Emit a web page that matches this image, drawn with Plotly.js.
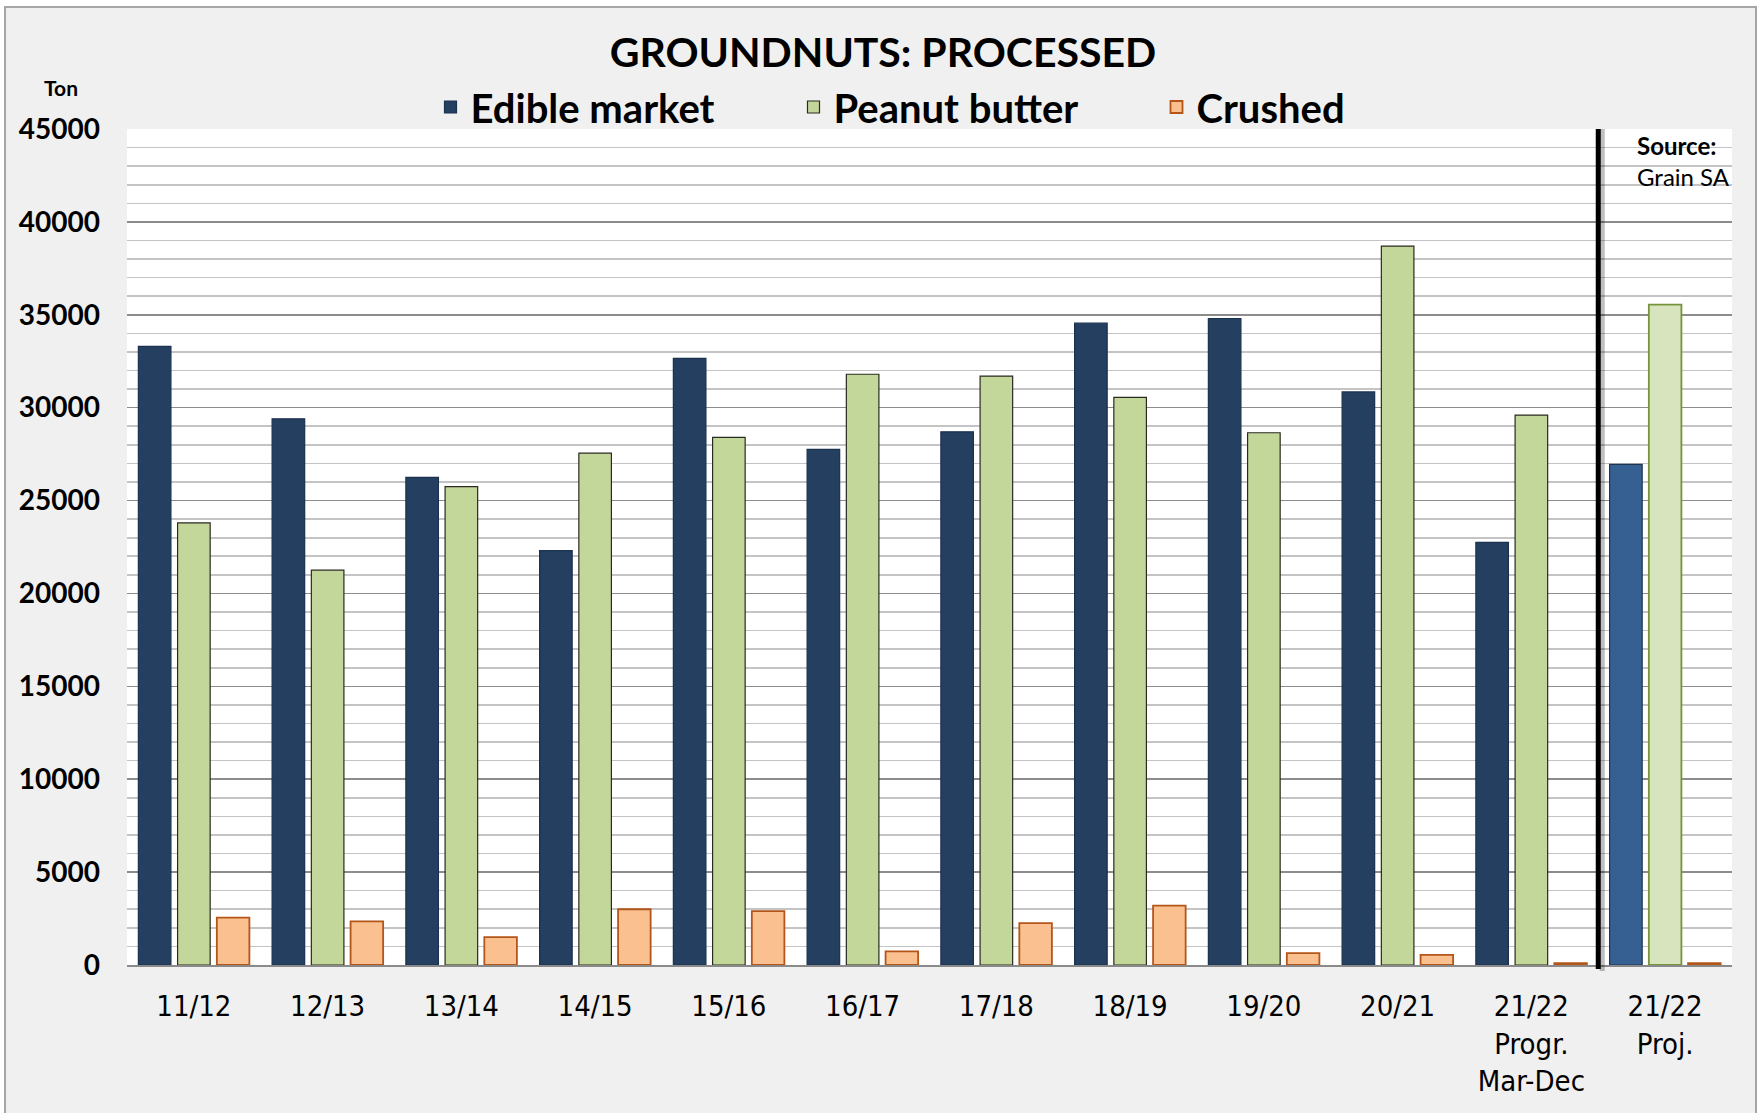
<!DOCTYPE html>
<html>
<head>
<meta charset="utf-8">
<script src="https://cdn.plot.ly/plotly-3.0.1.min.js"></script>
<style>
html,body{margin:0;padding:0;background:#ffffff;}
#chart{width:1763px;height:1113px;}
</style>
</head>
<body>
<div id="chart"></div>
<script>
// ---- data ----
const seasons = ["11/12","12/13","13/14","14/15","15/16","16/17","17/18","18/19","19/20","20/21","21/22<br>Progr.<br>Mar-Dec","21/22<br>Proj."];
const edibleMarket = [33300,29400,26250,22300,32650,27750,28700,34550,34800,30850,22750,26950];
const peanutButter = [23800,21250,25750,27550,28400,31800,31700,30550,28650,38700,29600,35550];
const crushed = [2550,2350,1500,3000,2900,730,2250,3200,640,550,100,100];
const seriesNames = ["Edible market","Peanut butter","Crushed"];
const yTicks = [0,5000,10000,15000,20000,25000,30000,35000,40000,45000];

// ---- styling ----
const n = seasons.length;
const last = n - 1;
function perBar(normal, special){ return seasons.map((_, i) => i === last ? special : normal); }

const L = 127, R = 1732, T = 129, B = 965, W = 1763, H = 1113;
const pw = R - L, ph = B - T;
const px = x => (x - L) / pw;
const py = y => (B - y) / ph;

const traces = [
  {type:'bar', name:seriesNames[0], x:seasons, y:edibleMarket,
   marker:{color:perBar('#243F60','#376092'), line:{color:perBar('#1b3150','#1f3552'), width:1.2}}},
  {type:'bar', name:seriesNames[1], x:seasons, y:peanutButter,
   marker:{color:perBar('#C4D79B','#D7E4BD'), line:{color:perBar('#2a2a20','#77933C'), width:perBar(1.2,1.8)}}},
  {type:'bar', name:seriesNames[2], x:seasons, y:crushed,
   marker:{color:'#FAC090', line:{color:'#B4561A', width:1.8}}}
];

const layout = {
  width: W, height: H,
  paper_bgcolor:'#F0F0F0', plot_bgcolor:'#FFFFFF',
  margin:{l:L, r:W-R, t:T, b:H-B, pad:0, autoexpand:false},
  barmode:'group', bargap:0.12, bargroupgap:0.17,
  showlegend:true,
  title:{text:'GROUNDNUTS: PROCESSED', x:883/W, xanchor:'center', xref:'container',
         y:1-53/H, yanchor:'middle', yref:'container',
         font:{family:'Lato, sans-serif', size:41, color:'#000000', weight:700}},
  legend:{orientation:'h', x:975/W, xanchor:'center', xref:'container',
          y:1-107/H, yanchor:'middle', yref:'container',
          font:{family:'Lato, sans-serif', size:40, color:'#000000', weight:700},
          bgcolor:'rgba(0,0,0,0)', entrywidth:318, entrywidthmode:'pixels', itemwidth:30},
  xaxis:{type:'category', showgrid:false, showline:true, linecolor:'#8a8a8a', linewidth:2,
         ticks:'', ticklabelstandoff:14,
         tickfont:{family:'"DejaVu Sans Condensed", Lato, sans-serif', size:29, color:'#000000'},
         fixedrange:true},
  yaxis:{range:[0,45000], tickmode:'array', tickvals:yTicks, ticktext:yTicks.map(String),
         showgrid:true, gridcolor:'#8c8c8c', gridwidth:1.6, zeroline:false,
         minor:{dtick:1000, tick0:0, showgrid:true, gridcolor:'#c4c4c4', gridwidth:1.6, ticks:''},
         ticks:'', ticklabelstandoff:26,
         tickfont:{family:'Lato, sans-serif', size:28, color:'#000000', weight:700},
         showline:false, fixedrange:true},
  shapes:[
    // outer frame and white margin strips
    {type:'rect', xref:'paper', yref:'paper', x0:px(0), x1:px(W), y0:py(0), y1:py(6), fillcolor:'#FFFFFF', line:{width:0}, layer:'below'},
    {type:'rect', xref:'paper', yref:'paper', x0:px(0), x1:px(4), y0:py(H), y1:py(0), fillcolor:'#FFFFFF', line:{width:0}, layer:'below'},
    {type:'rect', xref:'paper', yref:'paper', x0:px(1757), x1:px(W), y0:py(H), y1:py(0), fillcolor:'#FFFFFF', line:{width:0}, layer:'below'},
    {type:'rect', xref:'paper', yref:'paper', x0:px(5), x1:px(1756), y0:py(H+20), y1:py(7), line:{color:'#A6A6A6', width:2}, fillcolor:'rgba(0,0,0,0)'},
    // divider between progressive and projection
    {type:'line', xref:'x', yref:'paper', x0:10.53, x1:10.53, y0:py(971), y1:1, line:{color:'rgba(0,0,0,0.25)', width:5}},
    {type:'line', xref:'x', yref:'paper', x0:10.5, x1:10.5, y0:py(969), y1:1, line:{color:'#000000', width:5}}
  ],
  annotations:[
    {text:'<b>Ton</b>', xref:'paper', yref:'paper', x:px(61), y:py(88), xanchor:'center', yanchor:'middle', showarrow:false,
     font:{family:'Lato, sans-serif', size:21, color:'#000000'}},
    {text:'<b>Source:</b>', xref:'paper', yref:'paper', x:px(1635), y:py(145), xanchor:'left', yanchor:'middle', showarrow:false,
     font:{family:'Lato, sans-serif', size:24, color:'#000000'}},
    {text:'Grain SA', xref:'paper', yref:'paper', x:px(1635), y:py(177), xanchor:'left', yanchor:'middle', showarrow:false,
     font:{family:'Lato, sans-serif', size:24, color:'#000000'}}
  ]
};

Plotly.newPlot('chart', traces, layout, {displayModeBar:false, staticPlot:true});
</script>
</body>
</html>
